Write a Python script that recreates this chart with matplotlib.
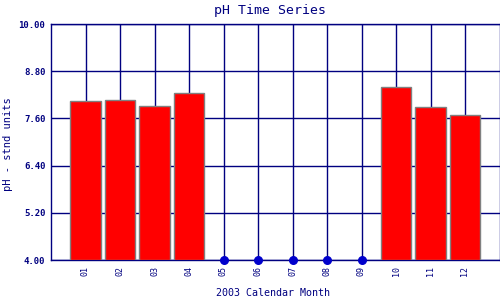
import numpy as np
import matplotlib
matplotlib.use("Agg")
import matplotlib.pyplot as plt

months = ["01", "02", "03", "04", "05", "06", "07", "08", "09", "10", "11", "12"]
ph_values = [8.04, 8.07, 7.92, 8.24, None, None, None, None, None, 8.39, 7.88, 7.68]
y_ticks = [4.00, 5.20, 6.40, 7.60, 8.80, 10.00]

navy = "#000080"
plt.rcParams["font.family"] = "DejaVu Sans Mono"

fig = plt.figure(figsize=(5, 3), dpi=100)
ax = fig.add_axes([0.102, 0.1333, 0.897, 0.7867])

x = np.arange(1, len(months) + 1)
have = [v is not None for v in ph_values]
bx = [xi for xi, h in zip(x, have) if h]
bv = [v for v in ph_values if v is not None]
mx = [xi for xi, h in zip(x, have) if not h]

ax.bar(bx, [v - 4.0 for v in bv], bottom=4.0, width=0.87,
       color="#ff0000", edgecolor="#808080", linewidth=1, zorder=3)
ax.scatter(mx, [4.0] * len(mx), s=30, color="#0000cc", zorder=4, clip_on=False)

ax.set_xlim(0, 13)
ax.set_ylim(4, 10)
ax.set_xticks(x)
ax.set_xticklabels(months, rotation=90, fontsize=6, color=navy)
ax.set_yticks(y_ticks)
ax.set_yticklabels([f"{t:.2f}" for t in y_ticks], fontsize=6.5, color=navy,
                   fontweight="bold")
ax.tick_params(length=0, pad=4)
ax.grid(True, color=navy, linewidth=1, zorder=1)
ax.set_axisbelow(True)
for s in ax.spines.values():
    s.set_color(navy)
    s.set_linewidth(1)

fig.text(0.54, 0.965, "pH Time Series", ha="center", va="center",
         fontsize=9.5, color=navy)
fig.text(0.546, 0.023, "2003 Calendar Month", ha="center", va="center",
         fontsize=7.2, color=navy)
fig.text(0.017, 0.52, "pH - stnd units", ha="center", va="center",
         rotation=90, fontsize=7.5, color=navy)

fig.savefig("out.png", dpi=100)
